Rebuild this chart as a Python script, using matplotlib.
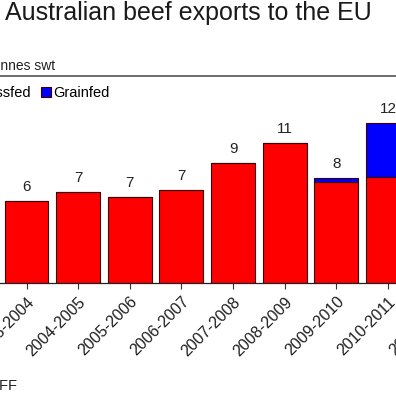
import matplotlib
matplotlib.use("Agg")
import matplotlib.pyplot as plt
from matplotlib.lines import Line2D

plt.rcParams["font.family"] = ["Liberation Sans", "DejaVu Sans"]

seasons = ["2003-2004", "2004-2005", "2005-2006", "2006-2007", "2007-2008",
           "2008-2009", "2009-2010", "2010-2011", "2011-2012"]
grassfed = [6.3, 7.0, 6.6, 7.15, 9.2, 10.8, 7.8, 8.15]
grainfed = [0, 0, 0, 0, 0, 0, 0.3, 4.15]

W = H = 396
fig = plt.figure(figsize=(W / 100, H / 100), dpi=100)

# axes deliberately spill past the left/right edges (cropped original)
ax = fig.add_axes([-25.15 / W, 113 / H, 516.5 / W, 182 / H])

x = range(len(grassfed))
edge = "#3a0000"
red = ax.bar(x, grassfed, width=0.85, color="#ff0000", edgecolor=edge, linewidth=0.8)
blue = ax.bar(x, grainfed, width=0.85, bottom=grassfed, color="#0000ff",
              edgecolor=edge, linewidth=0.8)

totals = [g + r for g, r in zip(grassfed, grainfed)]
ax.bar_label(blue, labels=[f"{t:.0f}" for t in totals], padding=5,
             fontsize=11, color="#222222")

ax.set_xlim(-1, 9)
ax.set_ylim(0, 14)
ax.set_xticks(range(len(seasons)))
ax.set_xticklabels(seasons)
plt.setp(ax.get_xticklabels(), rotation=45, ha="right", rotation_mode="anchor")
ax.tick_params(axis="x", length=4.5, width=0.8, pad=3.5, labelsize=11.5,
               color="#333333", labelcolor="#1e1e1e")
ax.tick_params(axis="y", left=False, labelleft=False)
for s in ["left", "top", "right"]:
    ax.spines[s].set_visible(False)
ax.spines["bottom"].set_color("#222222")
ax.spines["bottom"].set_linewidth(0.9)

ax.legend([red, blue], ["Grassfed", "Grainfed"], loc="upper left",
          bbox_to_anchor=(-41 / W, 1 - 86 / H), bbox_transform=fig.transFigure,
          ncol=2, frameon=False, fontsize=10.5, handlelength=0.7,
          handleheight=0.7, handletextpad=0.15, columnspacing=0.7,
          borderpad=0, borderaxespad=0)

fig.text(5 / W, 1 - 20 / H, "Australian beef exports to the EU", fontsize=18,
         va="baseline", ha="left", color="#1a1a1a")
fig.text(-41 / W, 1 - 70.5 / H, "'000 tonnes swt", fontsize=10,
         va="baseline", ha="left", color="#222222")
fig.add_artist(Line2D([0, 1], [1 - 76 / H, 1 - 76 / H], transform=fig.transFigure,
                      color="#555555", linewidth=1.2))
fig.text(-76 / W, 6 / H, "Source: DAFF", fontsize=10.5, va="baseline",
         ha="left", color="#222222")

fig.savefig("out.png", dpi=100)
